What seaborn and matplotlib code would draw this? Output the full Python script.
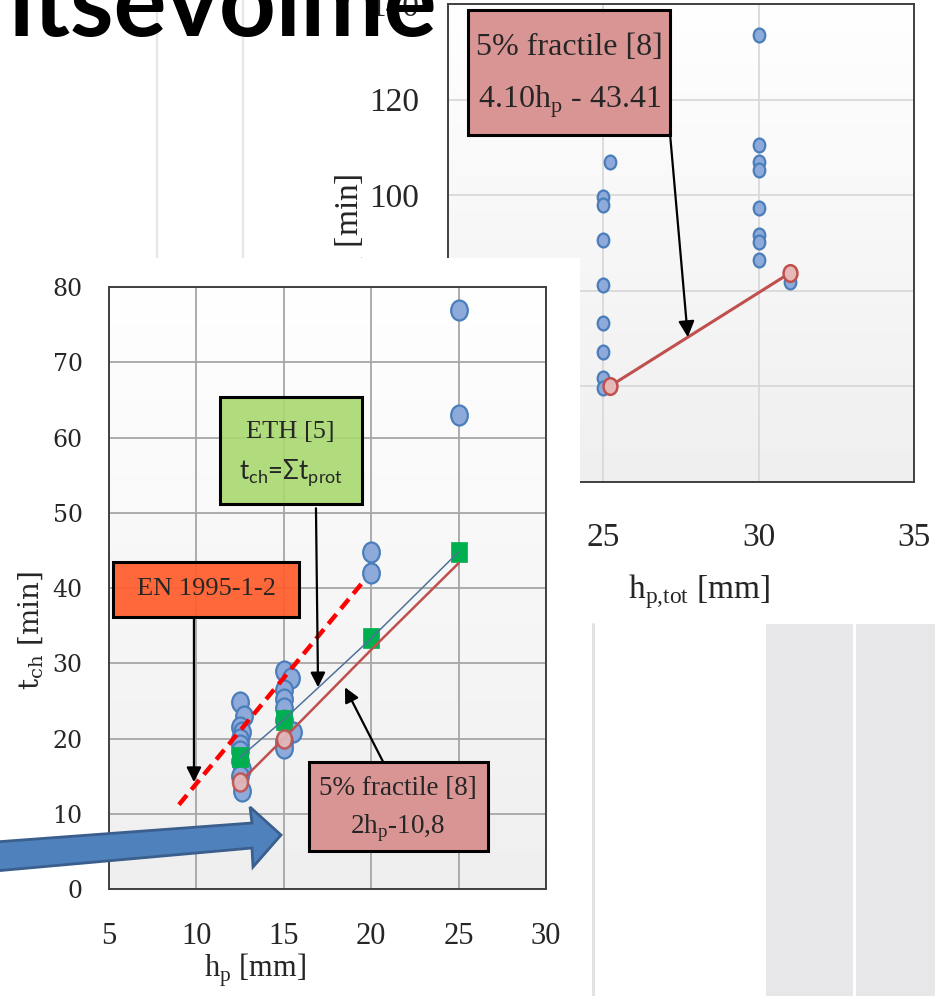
import numpy as np
import matplotlib
matplotlib.use("Agg")
import matplotlib.pyplot as plt
import seaborn as sns
from matplotlib.patches import Rectangle, Polygon
from matplotlib.path import Path
from matplotlib.colors import LinearSegmentedColormap

# ---------------- data : front chart (t_ch vs h_p) ----------------
hp_test = [12.5, 12.7, 12.5, 12.6, 12.5, 12.5, 12.5, 12.5, 12.6, 12.5, 12.6,
           15.0, 15.4, 15.0, 15.0, 15.0, 15.0, 15.5, 15.0, 15.0,
           20.0, 20.0, 25.0, 25.0]
tch_test = [24.8, 23.0, 21.5, 20.8, 20.0, 19.2, 18.3, 17.0, 16.0, 15.0, 13.0,
            29.0, 28.0, 26.5, 25.2, 24.0, 22.5, 20.8, 19.5, 18.8,
            44.8, 42.0, 77.0, 63.0]
hp_eth = [12.5, 15.0, 20.0, 25.0]
tch_eth = [17.5, 22.5, 33.3, 44.8]
hp_frac = [12.5, 15.0, 20.0, 25.0]
tch_frac = [14.2, 20.0, 31.8, 43.3]
frac_marked = [True, True, False, False]
hp_en = [9.0, 19.6]
tch_en = [11.2, 41.0]
front_xticks = [5, 10, 15, 20, 25, 30]
front_yticks = [0, 10, 20, 30, 40, 50, 60, 70, 80]

# ---------------- data : back chart (t_ch vs h_p,tot) ----------------
hptot_test = [25.2, 25.0, 25.0, 25.0, 25.0, 25.0, 25.0, 25.0, 25.0,
              30.0, 30.0, 30.0, 30.0, 30.0, 30.0, 30.0, 30.0, 31.0]
tchtot_test = [107.0, 99.7, 98.0, 90.6, 81.2, 73.2, 67.3, 61.7, 59.6,
               133.5, 110.5, 107.0, 105.3, 97.3, 91.7, 90.3, 86.4, 81.9]
hptot_frac = [25.2, 31.0]
tchtot_frac = [60.0, 83.7]
back_xticks = [20, 25, 30, 35]
back_yticks = [40, 60, 80, 100, 120, 140]

title_text = "itsevolme"

# ---------------- style ----------------
sns.set_theme(style="white")
plt.rcParams["font.family"] = ["Liberation Serif", "DejaVu Serif"]
plt.rcParams["axes.unicode_minus"] = False

W, H = 935, 996
fig = plt.figure(figsize=(W / 100, H / 100), dpi=100)
fig.patch.set_facecolor("white")

def fx(px):
    return px / W

def fy(py):
    return 1 - py / H

circ = Path.unit_circle()
ellipse = Path(circ.vertices * np.array([1.0, 1.2]), circ.codes)
tall_sq = Path([(-1, -1.18), (1, -1.18), (1, 1.18), (-1, 1.18), (-1, -1.18)],
               [Path.MOVETO, Path.LINETO, Path.LINETO, Path.LINETO, Path.CLOSEPOLY])
grad_cmap = LinearSegmentedColormap.from_list("g", ["#FFFFFF", "#EFEFEF"])
grad = np.linspace(0, 1, 256).reshape(-1, 1)

BLUE_FILL = "#8EAADB"
BLUE_EDGE = "#4A7EBB"
RED = "#C0504D"
RED_FILL = "#E6B9B8"
GREEN = "#00B050"

# ---------------- base layer (slide decorations) ----------------
ax0 = fig.add_axes([0, 0, 1, 1], zorder=0)
ax0.set_xlim(0, W)
ax0.set_ylim(H, 0)
ax0.axis("off")
for xv in (157, 243):
    ax0.plot([xv, xv], [0, 258], color="#E6E6E6", lw=1.6)
ax0.plot([593, 593], [624, H], color="#E3E3E3", lw=2.2)
ax0.add_patch(Rectangle((766, 624), 87, H - 624, fc="#E7E7E9", ec="none"))
ax0.add_patch(Rectangle((856, 624), W - 856, H - 624, fc="#E7E7E9", ec="none"))

# ---------------- back chart ----------------
axb = fig.add_axes([fx(448), fy(482), (914 - 448) / W, (482 - 4) / H], zorder=1)
axb.imshow(grad, cmap=grad_cmap, extent=[0, 1, 0, 1], transform=axb.transAxes,
           aspect="auto", zorder=0)
sns.scatterplot(x=hptot_test, y=tchtot_test, ax=axb, marker=ellipse, s=100,
                color=BLUE_FILL, edgecolor=BLUE_EDGE, linewidth=1.6, zorder=3)
sns.lineplot(x=hptot_frac, y=tchtot_frac, ax=axb, color=RED, lw=2.2,
             estimator=None, sort=False, marker=ellipse, markersize=12,
             markerfacecolor=RED_FILL, markeredgecolor=RED, markeredgewidth=1.8,
             zorder=4)
axb.set_xlim(20, 35)
axb.set_ylim(40, 140)
axb.set_xticks(back_xticks)
axb.set_yticks(back_yticks)
axb.grid(True, color="#D9D9D9", lw=1.3)
axb.set_axisbelow(True)
axb.tick_params(length=0, labelsize=24)
axb.tick_params(axis="x", pad=29)
axb.tick_params(axis="y", pad=21)
for sp in axb.spines.values():
    sp.set_color("#404040")
    sp.set_linewidth(1.4)
axb.set_xlabel(r"h$_\mathregular{p{,}tot}$ [mm]", fontsize=24)
axb.xaxis.set_label_coords(0.539, -0.23)
axb.xaxis.label.set_va("center")
axb.set_ylabel(r"t$_\mathregular{ch}$ [min]", fontsize=24)
axb.yaxis.set_label_coords(-0.21, 0.525)
axb.yaxis.label.set_va("center")

axb.add_patch(Rectangle((20.64, 112.6), 6.51, 26.1, fc="#D99594", ec="black",
                        lw=2.2, zorder=6))
axb.text(23.9, 131.0, "5% fractile [8]", fontsize=23, ha="center", va="center", zorder=7)
axb.text(23.9, 119.5, r"4.10h$_\mathregular{p}$ - 43.41", fontsize=23,
         ha="center", va="center", zorder=7)
axb.annotate("", xy=(27.72, 70.3), xytext=(27.15, 112.6),
             arrowprops=dict(arrowstyle="-|>", color="black", lw=1.6,
                             mutation_scale=24, shrinkA=0, shrinkB=0), zorder=7)

# cover (white area of the front chart object)
fig.add_artist(Rectangle((0, 0), fx(580), fy(258), transform=fig.transFigure,
                         fc="white", ec="none", zorder=2))

# ---------------- front chart ----------------
axf = fig.add_axes([fx(109), fy(889), (546 - 109) / W, (889 - 287) / H], zorder=3)
axf.imshow(grad, cmap=grad_cmap, extent=[0, 1, 0, 1], transform=axf.transAxes,
           aspect="auto", zorder=0)
sns.scatterplot(x=hp_test, y=tch_test, ax=axf, marker=ellipse, s=207,
                color=BLUE_FILL, edgecolor=BLUE_EDGE, linewidth=1.6, zorder=3)
sns.lineplot(x=hp_en, y=tch_en, ax=axf, color="#FF0000", lw=3.2,
             linestyle=(0, (2.8, 1.6)), estimator=None, sort=False, zorder=4)
sns.scatterplot(x=hp_eth, y=tch_eth, ax=axf, marker=tall_sq, s=207,
                color=GREEN, edgecolor=GREEN, linewidth=0.5, zorder=4)
sns.lineplot(x=hp_eth, y=tch_eth, ax=axf, color="#50719C", lw=1.1,
             estimator=None, sort=False, zorder=5)
sns.lineplot(x=hp_frac, y=tch_frac, ax=axf, color=RED, lw=1.8,
             estimator=None, sort=False, zorder=5)
sns.lineplot(x=[h for h, m in zip(hp_frac, frac_marked) if m],
             y=[t for t, m in zip(tch_frac, frac_marked) if m], ax=axf,
             estimator=None, sort=False, lw=0, marker=ellipse, markersize=13,
             markerfacecolor=RED_FILL, markeredgecolor=RED, markeredgewidth=1.8,
             alpha=0.9, zorder=6)
axf.set_xlim(5, 30)
axf.set_ylim(0, 80)
axf.set_xticks(front_xticks)
axf.set_yticks(front_yticks)
axf.grid(True, color="#A6A6A6", lw=1.3)
axf.set_axisbelow(True)
axf.tick_params(length=0)
axf.tick_params(axis="x", labelsize=22, pad=24)
axf.tick_params(axis="y", labelsize=17, pad=19)
for lab in axf.get_yticklabels():
    lab.set_family("DejaVu Serif")
for sp in axf.spines.values():
    sp.set_color("#404040")
    sp.set_linewidth(1.4)
axf.set_xlabel(r"h$_\mathregular{p}$ [mm]", fontsize=22)
axf.xaxis.set_label_coords(0.334, -0.135)
axf.xaxis.label.set_va("center")
axf.set_ylabel(r"t$_\mathregular{ch}$ [min]", fontsize=20, family="DejaVu Serif")
axf.yaxis.set_label_coords(-0.178, 0.43)
axf.yaxis.label.set_va("center")

arrow_kw = dict(arrowstyle="-|>", color="black", lw=1.6, mutation_scale=22,
                shrinkA=0, shrinkB=0)
# ETH box
axf.add_patch(Rectangle((11.35, 51.2), 8.12, 14.2, fc=(0.66, 0.85, 0.44, 0.9),
                        ec="black", lw=2.2, zorder=7))
axf.text(15.4, 60.7, "ETH [5]", fontsize=19, ha="center", va="center", zorder=8)
axf.text(15.4, 55.3, r"t$_\mathregular{ch}$=Σt$_\mathregular{prot}$", fontsize=18.5,
         family=["Lato", "DejaVu Sans"], ha="center", va="center", zorder=8)
axf.annotate("", xy=(16.96, 26.8), xytext=(16.84, 50.6), arrowprops=arrow_kw, zorder=8)
# EN box
axf.add_patch(Rectangle((5.23, 36.1), 10.64, 7.4, fc=(1.0, 0.36, 0.17, 0.92),
                        ec="black", lw=2.2, zorder=7))
axf.text(10.55, 39.9, "EN 1995-1-2", fontsize=19, ha="center", va="center", zorder=8)
axf.annotate("", xy=(9.86, 14.2), xytext=(9.86, 36.1), arrowprops=arrow_kw, zorder=8)
# 5% fractile box
axf.add_patch(Rectangle((16.44, 5.05), 10.24, 11.85, fc="#D99594",
                        ec="black", lw=2.2, zorder=7))
axf.text(21.5, 13.4, "5% fractile [8]", fontsize=19.5, ha="center", va="center", zorder=8)
axf.text(21.5, 8.1, r"2h$_\mathregular{p}$-10,8", fontsize=19.5, ha="center",
         va="center", zorder=8)
axf.annotate("", xy=(18.5, 26.8), xytext=(20.68, 16.9), arrowprops=arrow_kw, zorder=8)

# ---------------- overlay (title + block arrow) ----------------
axo = fig.add_axes([0, 0, 1, 1], zorder=5)
axo.set_xlim(0, W)
axo.set_ylim(H, 0)
axo.axis("off")
axo.patch.set_alpha(0)
axo.text(8, 36, title_text, family=["Lato", "DejaVu Sans"], weight="bold",
         fontsize=71.5, ha="left", va="baseline", color="black")
axo.add_patch(Polygon([(-5, 842), (252, 823), (250, 807), (281, 835),
                       (253, 867), (252, 848), (-5, 871)], closed=True,
                      fc="#4F81BD", ec="#3A5F8C", lw=2))

fig.savefig("out.png", dpi=100)
